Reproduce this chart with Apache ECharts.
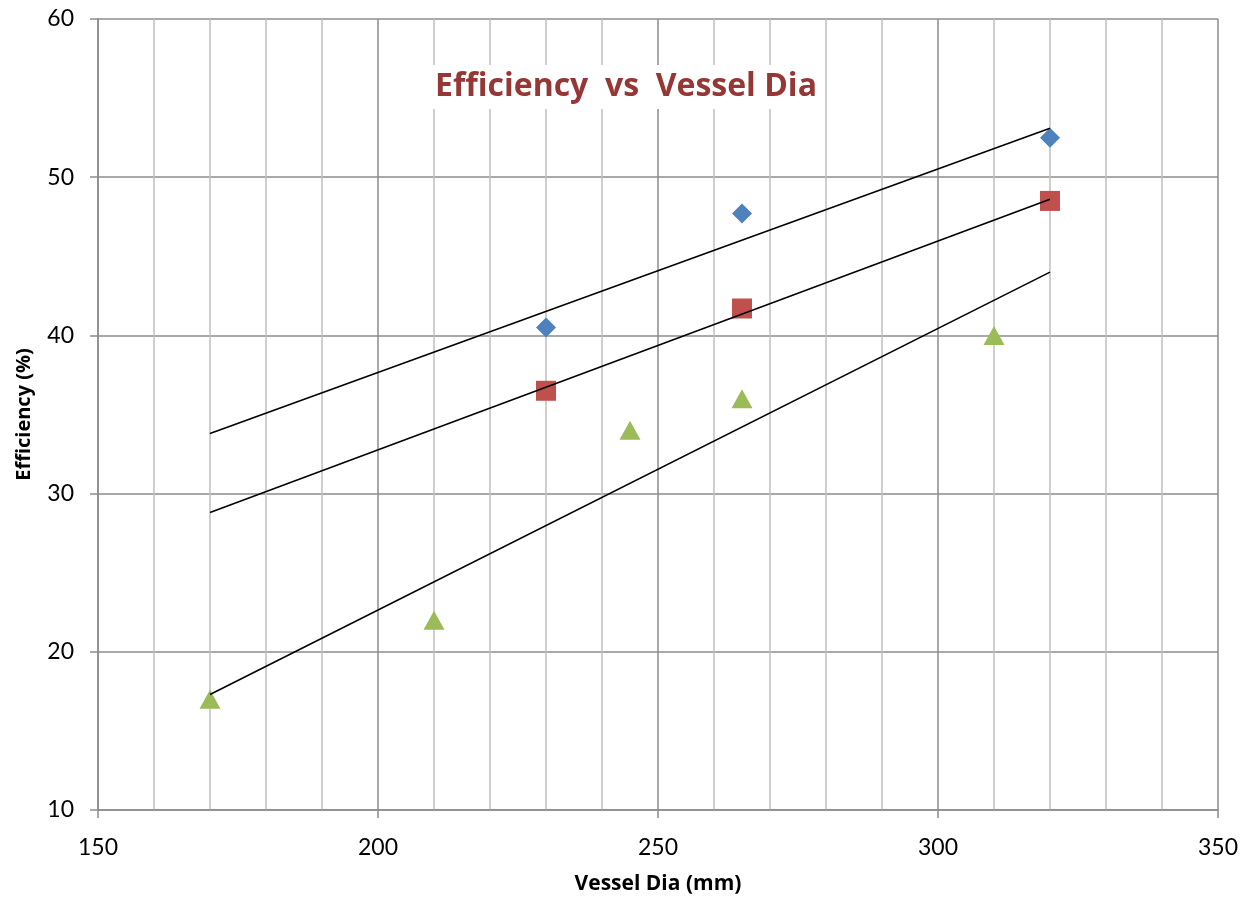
<!DOCTYPE html>
<html>
<head>
<meta charset="utf-8">
<script src="https://cdn.jsdelivr.net/npm/echarts@6/dist/echarts.min.js"></script>
<style>
html,body{margin:0;padding:0;background:#fff;}
#chart{width:1243px;height:898px;}
</style>
</head>
<body>
<div id="chart"></div>
<script>
// Data
const blueX = [230, 265, 320];
const blueY = [40.5, 47.7, 52.5];
const redX = [230, 265, 320];
const redY = [36.5, 41.7, 48.5];
const greenX = [170, 210, 245, 265, 310];
const greenY = [17, 22, 34, 36, 40];
// Trendline endpoints
const trendX = [170, 320];
const blueTrendY = [33.8, 53.1];
const redTrendY = [28.8, 48.6];
const greenTrendY = [17.3, 44.0];

const titleText = 'Efficiency  vs  Vessel Dia';
const xName = 'Vessel Dia (mm)';
const yName = 'Efficiency (%)';

function pairs(xs, ys){ return xs.map((x,i)=>[x, ys[i]]); }

const chart = echarts.init(document.getElementById('chart'));
const tickFont = 'Lato, "Open Sans", sans-serif';
const titleFont = '"Open Sans", Lato, sans-serif';
chart.setOption({
  animation: false,
  backgroundColor: '#fff',
  title: {
    text: titleText,
    left: 618, top: 65,
    textAlign: 'center',
    backgroundColor: '#fff',
    padding: [6, 8],
    textStyle: {fontFamily: titleFont, fontWeight: 'bold', fontSize: 32, color: '#953735'}
  },
  grid: {left: 98, right: 25, top: 19, bottom: 88, containLabel: false, outerBoundsMode: 'none'},
  xAxis: {
    type: 'value', min: 150, max: 350, interval: 50,
    name: xName, nameLocation: 'middle', nameGap: 64,
    nameTextStyle: {fontFamily: titleFont, fontWeight: 'bold', fontSize: 21, color: '#000'},
    axisLine: {show: true, lineStyle: {color: '#8c8c8c', width: 1.5}},
    axisTick: {show: true, length: 8, lineStyle: {color: '#8c8c8c', width: 1.5}},
    axisLabel: {fontFamily: tickFont, fontSize: 23, color: '#000', margin: 26},
    splitLine: {show: true, lineStyle: {color: '#8c8c8c', width: 1.5}},
    minorTick: {show: false, splitNumber: 5},
    minorSplitLine: {show: true, lineStyle: {color: '#c0c0c0', width: 1.5}}
  },
  yAxis: {
    type: 'value', min: 10, max: 60, interval: 10,
    name: yName, nameLocation: 'middle', nameGap: 64, nameRotate: 90,
    nameTextStyle: {fontFamily: titleFont, fontWeight: 'bold', fontSize: 20, color: '#000'},
    axisLine: {show: true, lineStyle: {color: '#8c8c8c', width: 1.5}},
    axisTick: {show: true, length: 8, lineStyle: {color: '#8c8c8c', width: 1.5}},
    axisLabel: {fontFamily: tickFont, fontSize: 23, color: '#000', margin: 24},
    splitLine: {show: true, lineStyle: {color: '#8c8c8c', width: 1.5}}
  },
  series: [
    {type: 'line', data: pairs(trendX, blueTrendY), symbol: 'none', lineStyle: {color: '#000', width: 1.6}, z: 3},
    {type: 'line', data: pairs(trendX, redTrendY), symbol: 'none', lineStyle: {color: '#000', width: 1.6}, z: 3},
    {type: 'line', data: pairs(trendX, greenTrendY), symbol: 'none', lineStyle: {color: '#000', width: 1.6}, z: 3},
    {type: 'scatter', data: pairs(blueX, blueY), symbol: 'diamond', symbolSize: [20, 20], itemStyle: {color: '#4F81BD', opacity: 1}, z: 2},
    {type: 'scatter', data: pairs(redX, redY), symbol: 'rect', symbolSize: [20, 20], itemStyle: {color: '#C0504D', opacity: 1}, z: 2},
    {type: 'scatter', data: pairs(greenX, greenY), symbol: 'triangle', symbolSize: [21, 19], itemStyle: {color: '#9BBB59', opacity: 1}, z: 2}
  ]
});
</script>
</body>
</html>
